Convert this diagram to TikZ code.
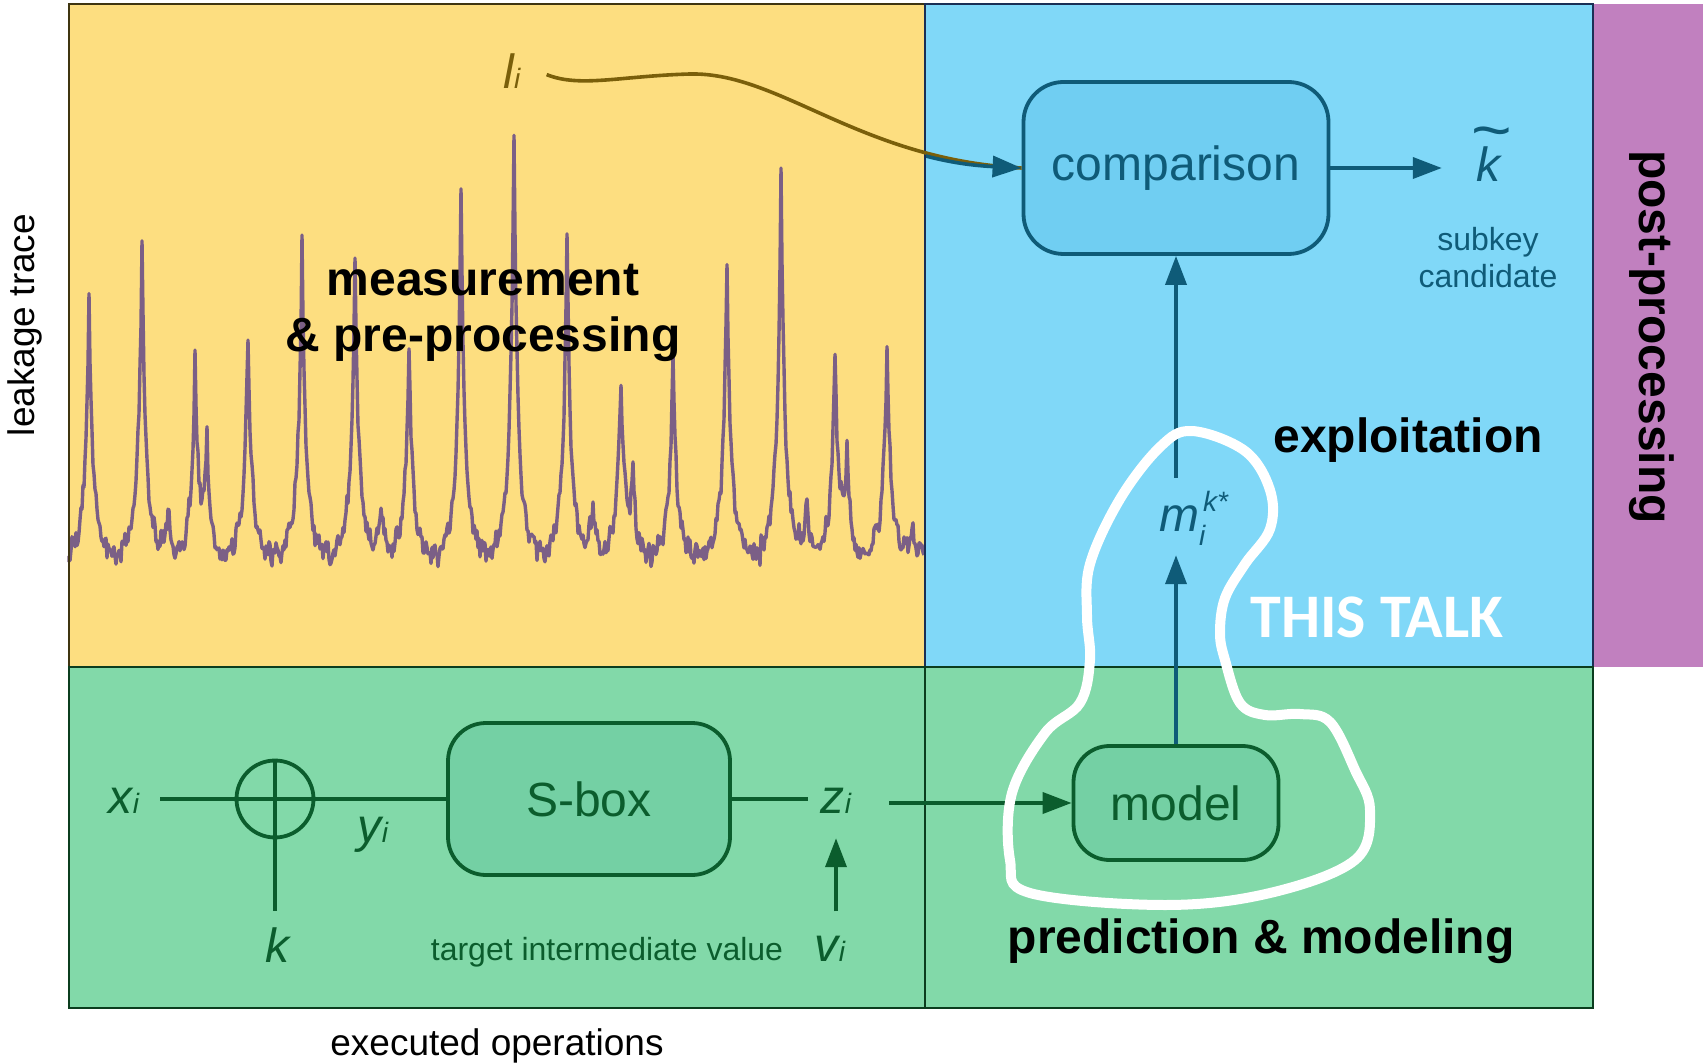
\documentclass[tikz,border=0pt]{standalone}
\usepackage{fontspec}
\setmainfont{Liberation Sans}
\newfontfamily\talkfont{Carlito}
\usetikzlibrary{arrows.meta,calc}
\definecolor{ybg}{HTML}{FDDE80}
\definecolor{bbg}{HTML}{80D8F8}
\definecolor{gbg}{HTML}{82D9A9}
\definecolor{pbg}{HTML}{C180BF}
\definecolor{bfill}{HTML}{70CEF2}
\definecolor{gfill}{HTML}{74D0A4}
\definecolor{bdark}{HTML}{0F5B78}
\definecolor{gdark}{HTML}{0B5D2D}
\definecolor{olivec}{HTML}{7A5F0A}
\definecolor{tracec}{HTML}{7B5F86}
\definecolor{yframe}{HTML}{3F3510}
\definecolor{bframe}{HTML}{1A2F55}
\definecolor{gframe}{HTML}{0B3D1E}
\newcommand\smallidx[1]{{\fontsize{28}{28}\selectfont #1}}
\begin{document}
\begin{tikzpicture}[x=1pt,y=-1pt,
  lbl/.style={inner sep=0pt, anchor=base},
  fbig/.style={font=\fontsize{48}{56}\selectfont},
  fbold/.style={font=\fontsize{48}{56}\selectfont\bfseries},
  fital/.style={font=\fontsize{48}{56}\selectfont\itshape},
  fsmall/.style={font=\fontsize{32}{37}\selectfont},
  fmid/.style={font=\fontsize{37}{44}\selectfont},
  bbox/.style={draw=bdark, fill=bfill, line width=3.8pt, rounded corners=40pt, inner sep=0pt},
  gbox/.style={draw=gdark, fill=gfill, line width=3.8pt, rounded corners=38pt, inner sep=0pt},
  gl/.style={draw=gdark, line width=3.8pt},
  garr/.style={draw=gdark, line width=3.8pt, -{Triangle[length=29pt,width=21pt]}},
  barr/.style={draw=bdark, line width=3.8pt, -{Triangle[length=29pt,width=21pt]}},
]
\useasboundingbox (0,0) rectangle (1703,1064);
% regions
\fill[ybg] (69,4) rectangle (925,667);
\fill[bbg] (925,4) rectangle (1593,667);
\fill[pbg] (1593,4) rectangle (1703,667);
\fill[gbg] (69,667) rectangle (1593,1008);
% leakage trace
\pgfmathsetseed{12}
\draw[tracec, line width=3.4pt, line join=round]
  (69,562)
  \foreach \c/\a/\s/\b/\e in {89/258/0/0/32, 142/314/0/40/32, 195/196/110/0/32, 248/224/0/0/33,
     302/314/0/0/32, 355/300/0/45/33, 409/208/0/0/31, 461/364/0/0/32, 514/425/0/0/32,
     567/322/0/45/33, 621/183/80/0/31, 673/202/0/0/33, 727/302/0/0/33, 781/385/0/45/33,
     835/204/100/0/31, 887/220/0/20/37}
  { -- plot[samples at={-20,...,\e}, variable=\t]
      ({\c+\t},{558-\a*(0.7*exp(-abs(\t)/3)+0.3*exp(-abs(\t)/9))-\s*exp(-abs(\t-12)/3)-\b*exp(-abs(\t-26)/4)+9*rand+4*sin(\t*47+\c*3)}) };
% frames
\draw[yframe, line width=2.5pt] (69,4) rectangle (925,667);
\draw[bframe, line width=2.5pt] (925,4) rectangle (1593,667);
\draw[gframe, line width=2.5pt] (69,667) rectangle (1593,1008);
\draw[gframe, line width=2.5pt] (925,667) -- (925,1008);
% region titles
\node[inner sep=0pt, align=center, fbold] (meas) at (483,313) {measurement\\\& pre-processing};
\node[lbl, fbold] (expl) at (1408,452) {exploitation};
\node[lbl, fbold] (pred) at (1261,953) {prediction \& modeling};
\node[inner sep=0pt, rotate=-90, fbold] (post) at (1652,337) {post-processing};
\node[inner sep=0pt, rotate=90, fmid] (leak) at (25,325) {leakage trace};
\node[lbl, fmid] (exec) at (497,1055) {executed operations};
% blue part
\node[bbox, minimum width=305pt, minimum height=172pt, text=bdark, fbig] (cmp) at (1176,168) {comparison};
\node[lbl, fital, text=bdark] (kt) at (1488,182) {\ooalign{k\cr\hidewidth\hspace{6pt}\raisebox{30pt}{\scalebox{1.45}[1.3]{\textasciitilde}}\hidewidth\cr}};
\node[inner sep=0pt, align=center, fsmall, text=bdark] (subk) at (1488,258) {subkey\\candidate};
\node[lbl, anchor=base west, fital, text=bdark] (mi) at (1159,531) {m\rlap{\hspace{4pt}\raisebox{20pt}{\smallidx{k*}}}\raisebox{-14pt}{\smallidx{i}}};
\node[lbl, fital, text=olivec] (li) at (512,89) {l\smallidx{i}};
% green part
\node[gbox, minimum width=282pt, minimum height=152pt, text=gdark, fbig] (sbox) at (589,799) {S-box};
\node[gbox, rounded corners=36pt, minimum width=205pt, minimum height=114pt, text=gdark, fbig] (model) at (1176,803) {model};
\node[circle, draw=gdark, line width=3.8pt, minimum size=77pt, inner sep=0pt] (xor) at (275,799) {};
\node[lbl, fital, text=gdark] (xi) at (124,813) {x\smallidx{i}};
\node[lbl, fital, text=gdark] (yi) at (373,842) {y\smallidx{i}};
\node[lbl, fital, text=gdark] (zi) at (836,813) {z\smallidx{i}};
\node[lbl, fital, text=gdark] (vi) at (830,961) {v\smallidx{i}};
\node[lbl, fital, text=gdark] (kk) at (277,962) {k};
\node[lbl, fsmall, text=gdark] (tiv) at (607,960) {target intermediate value};
% connectors
\draw[gl] ($(xi.east |- sbox.west)+(21,0)$) -- (sbox.west);
\draw[gl] (xor.north) -- ($(xor.north |- kk.north)+(0,-16)$);
\draw[gl] (sbox.east) -- ($(zi.west |- sbox.east)+(-13,0)$);
\draw[garr] ($(zi.east |- model.west)+(38,0)$) -- (model.west);
\draw[garr] ($(zi.south |- vi.north)+(0,-24)$) -- ($(zi.south)+(0,25)$);
\draw[barr] (model.north) -- ($(model.north |- mi.south)+(0,10)$);
\draw[barr] ($(cmp.south |- mi.north)+(0,-13)$) -- (cmp.south);
\draw[barr] (cmp.east) -- ($(kt.west |- cmp.east)+(-34,0)$);
\draw[olivec, line width=3.6pt] ($(li.east)+(26,3)$) .. controls (580,88) and (620,76) .. (690,74)
   .. controls (780,72) and (860,160) .. (cmp.west);
\begin{scope}
\clip (926,0) rectangle (1100,300);
\draw[barr, line width=3.6pt] ($(li.east)+(26,3)$) .. controls (580,88) and (620,76) .. (690,74)
   .. controls (780,72) and (860,160) .. (cmp.west);
\end{scope}
% this talk loop
\draw[white, line width=10pt] plot[smooth cycle, tension=0.6] coordinates {
 (1192,431) (1245,451) (1270,490) (1270,529) (1245,564) (1225,598) (1220,633) (1225,660)
 (1240,703) (1265,715) (1300,714) (1330,722) (1355,770) (1370,810) (1355,860) (1270,893)
 (1165,905) (1030,893) (1010,860) (1012,793) (1045,733) (1080,703) (1090,660) (1087,616)
 (1090,564) (1120,499) (1160,447)};
\node[lbl, font=\talkfont\bfseries\fontsize{62}{62}\selectfont, text=white] (talk) at (1377,637) {THIS TALK};
\end{tikzpicture}
\end{document}
